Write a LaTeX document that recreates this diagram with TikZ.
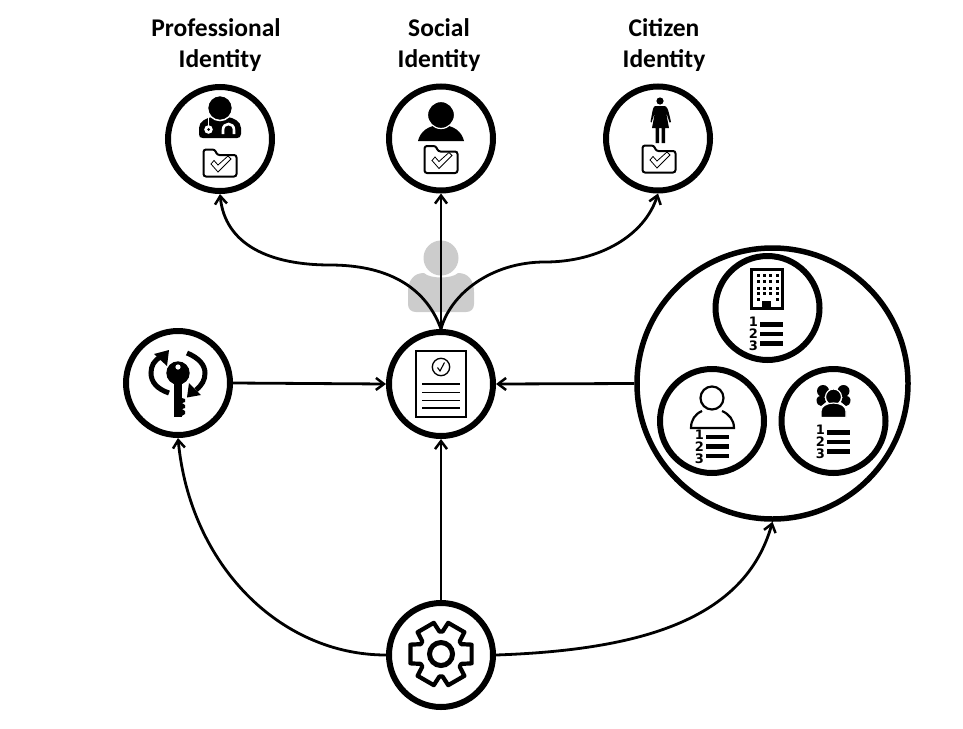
\documentclass[tikz,border=0pt]{standalone}
\usepackage{fontspec}
\setmainfont{Carlito}
\newfontfamily\digitfont{DejaVu Sans}[Scale=1]
\usetikzlibrary{arrows.meta}
\tikzset{
  x=1pt,y=-1pt,
  ring/.style={circle,draw=black,line width=6pt,fill=white,minimum size=104pt,inner sep=0pt},
  bigring/.style={ring,minimum size=271pt,line width=5.5pt},
  conn/.style={line width=2.8pt,draw=black,-{Straight Barb[length=8pt,width=12pt,line width=2.5pt]}},
  title/.style={font=\bfseries\fontsize{25.5}{31}\selectfont,align=center,inner sep=0pt,text=black},
  pics/folderico/.style={code={
    \draw[line width=2pt,rounded corners=2.5pt,fill=white] (-16.5,-13.5) -- (-5,-13.5) -- (-3,-8) -- (16.5,-8) -- (16.5,13.5) -- (-16.5,13.5) -- cycle;
    \draw[line width=.8pt,fill=white,line join=miter] (-9,1) -- (-6,-2.5) -- (-2,2) -- (8,-7) -- (11,-4) -- (-2,9) -- cycle;
  }},
  pics/listico/.style={code={
    \fill (4.5,-12) rectangle (28,-7.5);
    \fill (4.5,-2.2) rectangle (28,2.2);
    \fill (4.5,7) rectangle (28,11.5);
    \node[inner sep=0pt,font=\digitfont\bfseries\fontsize{13}{13}\selectfont] at (-1.5,-12) {1};
    \node[inner sep=0pt,font=\digitfont\bfseries\fontsize{13}{13}\selectfont] at (-1.5,0) {2};
    \node[inner sep=0pt,font=\digitfont\bfseries\fontsize{13}{13}\selectfont] at (-1.5,12) {3};
  }}
}
\begin{document}
\begin{tikzpicture}
\useasboundingbox (0,0) rectangle (963,728);
% gray person behind the connectors
\fill[black!20] (441,258) circle (17.5);
\fill[black!20] (424,273) .. controls (414,273) and (408,280) .. (408,292) -- (408,304) .. controls (408,309) and (411,312) .. (416,312) -- (466,312) .. controls (471,312) and (474,309) .. (474,304) -- (474,292) .. controls (474,280) and (468,273) .. (458,273) .. controls (452,279) and (430,279) .. (424,273) -- cycle;
% rings
\node[ring] (prof) at (220,139) {};
\node[ring] (soc) at (441,138.5) {};
\node[ring] (cit) at (658,138.5) {};
\node[ring] (key) at (178,383) {};
\node[ring] (doc) at (441,384) {};
\node[ring] (gear) at (441,655) {};
\node[bigring] (big) at (772.5,383.5) {};
\node[ring] (bld) at (767.5,308) {};
\node[ring] (usr) at (712,421) {};
\node[ring] (grp) at (833.5,421) {};
% connectors
\draw[conn] (doc.north) .. controls (425,285) and (385,265) .. (330,265) .. controls (270,265) and (225,245) .. (prof.south);
\draw[conn] (doc.north) -- (soc.south);
\draw[conn] (doc.north) .. controls (450,295) and (490,262) .. (545,262) .. controls (600,262) and (645,235) .. (cit.south);
\draw[conn] (key.east) -- (doc.west);
\draw[conn] (big.west) -- (doc.east);
\draw[conn] (gear.north) -- (doc.south);
\draw[conn] (gear.west) .. controls (280,655) and (190,565) .. (key.south);
\draw[conn] (gear.east) .. controls (640,650) and (745,620) .. (big.south);
% titles
\node[title] (t1) at (216,45) {Professional\\\hspace*{8pt}Identity};
\node[title] (t2) at (439,45) {Social\\Identity};
\node[title] (t3) at (664,45) {Citizen\\Identity};
% doctor
\fill (199,134) -- (199,128) .. controls (199,121) and (207,118) .. (212,117) -- (228,117) .. controls (233,118) and (241,121) .. (241,128) -- (241,134) .. controls (241,137) and (239,138) .. (237,138) -- (203,138) .. controls (200,138) and (199,137) .. (199,134) -- cycle;
\draw[white,line width=1.6pt] (208.5,117) -- (208.5,126);
\fill[white] (208.5,129.5) circle (4.3);
\fill (208.5,129.5) circle (1.5);
\draw[white,line width=2.6pt] (223,134) -- (223,130) .. controls (223,122) and (234,122) .. (234,130) -- (234,134);
\fill[draw=white,line width=1.5pt] (220,108) circle (12.5);
\pic at (220,163) {folderico};
% social
\fill (418,141) .. controls (420,132) and (428,125) .. (441,125) .. controls (454,125) and (462,132) .. (464,141) -- cycle;
\fill[draw=white,line width=1.2pt] (441,115) circle (13.5);
\pic at (441,159.5) {folderico};
% citizen woman
\fill (660,101) circle (3.6);
\fill (656,106) -- (664,106) .. controls (667,106) and (668,108) .. (671,122) -- (669.5,122.5) -- (666,112) -- (669,128) -- (665,128) -- (665,143) -- (661.5,143) -- (661.5,128) -- (659,128) -- (659,143) -- (655.5,143) -- (655.5,128) -- (652,128) -- (655,112) -- (651.5,122.5) -- (650.5,122) .. controls (653,108) and (653,106) .. (656,106) -- cycle;
\pic at (659,159) {folderico};
% key
\fill (178,373) circle (11.7);
\fill (173.5,378) rectangle (182,417);
\fill (182,398) -- (185,399) -- (185,402) -- (182,403) -- (185,405) -- (185,408) -- (182,409) -- (185,411) -- (185,414) -- (180,417) -- cycle;
\fill[white] (178,367) circle (2.6);
\draw[line width=5pt] (169,393) .. controls (157,389) and (151,382) .. (151,373) .. controls (151,366) and (154,360) .. (161,357);
\fill (169,350) -- (154,354) -- (167,366) -- cycle;
\draw[line width=5pt] (187,353) .. controls (199,358) and (205,365) .. (205,373) .. controls (205,380) and (202,385) .. (196,390);
\fill (187,397.5) -- (189,383) -- (201,395) -- cycle;
% document
\draw[line width=1.8pt] (416,351) rectangle (466,417);
\draw[line width=1.3pt] (441,367) circle (8.7);
\draw[line width=1.1pt] (437.5,367.5) -- (440,371) -- (444.5,362.5);
\foreach \ly in {384,392.5,400.5,408} \draw[line width=1.6pt] (422,\ly) -- (460,\ly);
% gear
\begin{scope}[shift={(441,654)}]
\draw[line width=4.2pt,line join=round] (-17:32) \foreach \a in {0,60,...,300} { -- (\a-17:32) -- (\a+17:32) -- (\a+26:22.5) -- (\a+34:22.5)} -- cycle;
\draw[line width=5pt] (0,0) circle (11.5);
\end{scope}
% building
\draw[line width=3pt] (751.5,269) rectangle (782.5,308.5);
\foreach \wx in {758,764.5,770.5,777}
  \foreach \wy in {275,281.5,288,293.5}
    \fill (\wx-1.5,\wy-1.5) rectangle (\wx+1.5,\wy+1.5);
\foreach \wx in {758,777} \fill (\wx-1.5,297.5) rectangle (\wx+1.5,300.5);
\fill (762,301) rectangle (771,309);
\pic at (755,334) {listico};
% user
\draw[line width=2.2pt] (712,398) circle (11.5);
\draw[line width=2.2pt] (702,411) .. controls (695,414) and (691,420) .. (691,428) -- (734,428) .. controls (734,420) and (729,414) .. (722,411);
\pic at (701,446.5) {listico};
% group
\fill (823,391) circle (6);
\fill (843.5,391) circle (6);
\fill (816.5,400) .. controls (816.5,397) and (820,395) .. (824,396) -- (826,402) -- (821,406) .. controls (819,406) and (816.5,404) .. (816.5,400) -- cycle;
\fill (850.5,400) .. controls (850.5,397) and (847,395) .. (843,396) -- (841,402) -- (846,406) .. controls (848,406) and (850.5,404) .. (850.5,400) -- cycle;
\fill[draw=white,line width=1.2pt] (833.5,397) circle (8);
\fill[draw=white,line width=1.2pt] (821,417.5) -- (821,411) .. controls (821,406) and (827,403) .. (833.5,403) .. controls (840,403) and (846,406) .. (846,411) -- (846,417.5) -- cycle;
\pic at (822,442) {listico};
\end{tikzpicture}
\end{document}
